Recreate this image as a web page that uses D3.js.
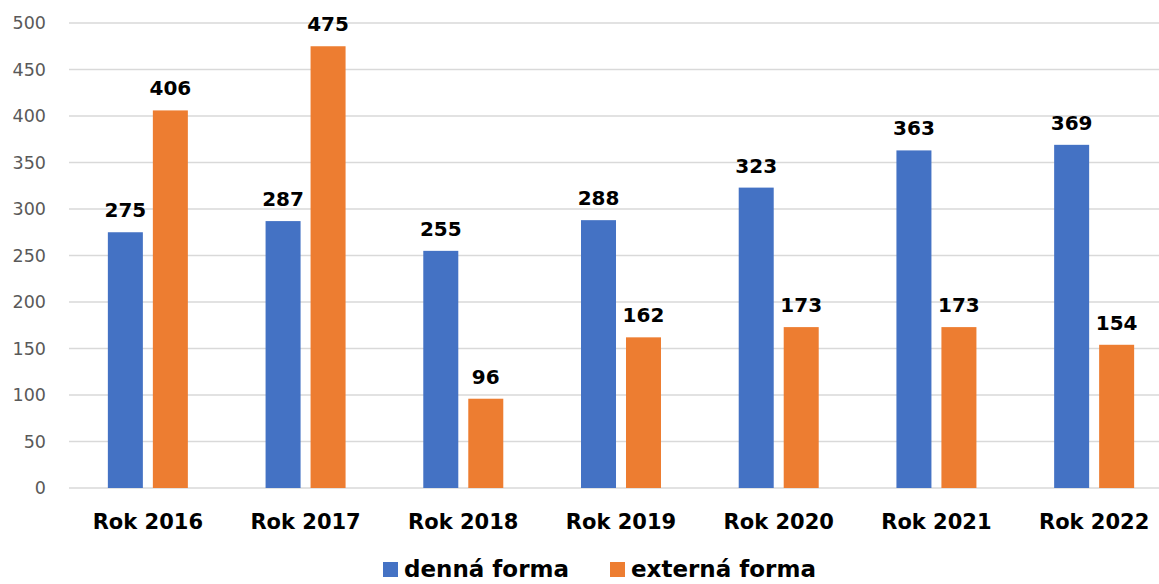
<!DOCTYPE html>
<html lang="sk">
<head>
  <meta charset="UTF-8">
  <style>
    body { margin: 0; background: #fff; }
    .tick-y { fill: #595959; font-size: 17.5px; font-family: 'DejaVu Sans', Verdana, sans-serif; }
    .cat { fill: #000; font-size: 21px; font-weight: bold; font-family: 'DejaVu Sans', Verdana, sans-serif; }
    .val { fill: #000; font-size: 20px; font-weight: bold; font-family: 'DejaVu Sans', Verdana, sans-serif; }
    .legend-text { fill: #000; font-size: 23px; font-weight: bold; font-family: 'DejaVu Sans', Verdana, sans-serif; }
  </style>
  <script src="https://d3js.org/d3.v7.min.js"></script>
</head>
<body>
<svg id="chart"></svg>
<script>
const years = ['Rok 2016', 'Rok 2017', 'Rok 2018', 'Rok 2019', 'Rok 2020', 'Rok 2021', 'Rok 2022'];
const denna = [275, 287, 255, 288, 323, 363, 369];
const externa = [406, 475, 96, 162, 173, 173, 154];
const seriesNames = ['denná forma', 'externá forma'];
const colors = ['#4472C4', '#ED7D31'];
const yTicks = [0, 50, 100, 150, 200, 250, 300, 350, 400, 450, 500];

const width = 1159, height = 584;
const svg = d3.select('#chart').attr('width', width).attr('height', height);

// last category runs past the right edge, like the original picture
const x0 = d3.scaleBand().domain(years).range([69, 1173]);
const groupW = 80;
const x1 = d3.scaleBand().domain(seriesNames)
  .range([(x0.bandwidth() - groupW) / 2, (x0.bandwidth() + groupW) / 2])
  .paddingInner(0.222);
const y = d3.scaleLinear().domain([0, 500]).range([488, 23]);

// grid
svg.append('g').selectAll('line').data(yTicks).enter().append('line')
  .attr('x1', 69).attr('x2', width)
  .attr('y1', d => y(d)).attr('y2', d => y(d))
  .attr('stroke', '#d9d9d9').attr('stroke-width', 1.5);

svg.append('g').selectAll('text').data(yTicks).enter().append('text')
  .attr('class', 'tick-y')
  .attr('x', 46).attr('y', d => y(d))
  .attr('dy', '0.36em')
  .attr('text-anchor', 'end')
  .text(d => d);

const data = years.map((yr, i) => ({ year: yr, vals: [denna[i], externa[i]] }));

const groups = svg.append('g').selectAll('g').data(data).enter().append('g')
  .attr('transform', d => 'translate(' + x0(d.year) + ',0)');

groups.selectAll('rect').data(d => d.vals.map((v, j) => ({ v: v, s: seriesNames[j], c: colors[j] })))
  .enter().append('rect')
  .attr('x', d => x1(d.s))
  .attr('width', x1.bandwidth())
  .attr('y', d => y(d.v))
  .attr('height', d => y(0) - y(d.v))
  .attr('fill', d => d.c);

groups.selectAll('text.val').data(d => d.vals.map((v, j) => ({ v: v, s: seriesNames[j] })))
  .enter().append('text')
  .attr('class', 'val')
  .attr('x', d => x1(d.s) + x1.bandwidth() / 2)
  .attr('y', d => y(d.v) - 15)
  .attr('text-anchor', 'middle')
  .text(d => d.v);

svg.append('g').selectAll('text').data(years).enter().append('text')
  .attr('class', 'cat')
  .attr('x', d => x0(d) + x0.bandwidth() / 2)
  .attr('y', 529)
  .attr('text-anchor', 'middle')
  .text(d => d);

// legend
const legendX = [383, 610];
const legend = svg.append('g').selectAll('g').data(seriesNames).enter().append('g')
  .attr('transform', (d, i) => 'translate(' + legendX[i] + ',562)');
legend.append('rect').attr('width', 15).attr('height', 15).attr('fill', (d, i) => colors[i]);
legend.append('text').attr('class', 'legend-text')
  .attr('x', 21).attr('y', 15)
  .text(d => d);
</script>
</body>
</html>
